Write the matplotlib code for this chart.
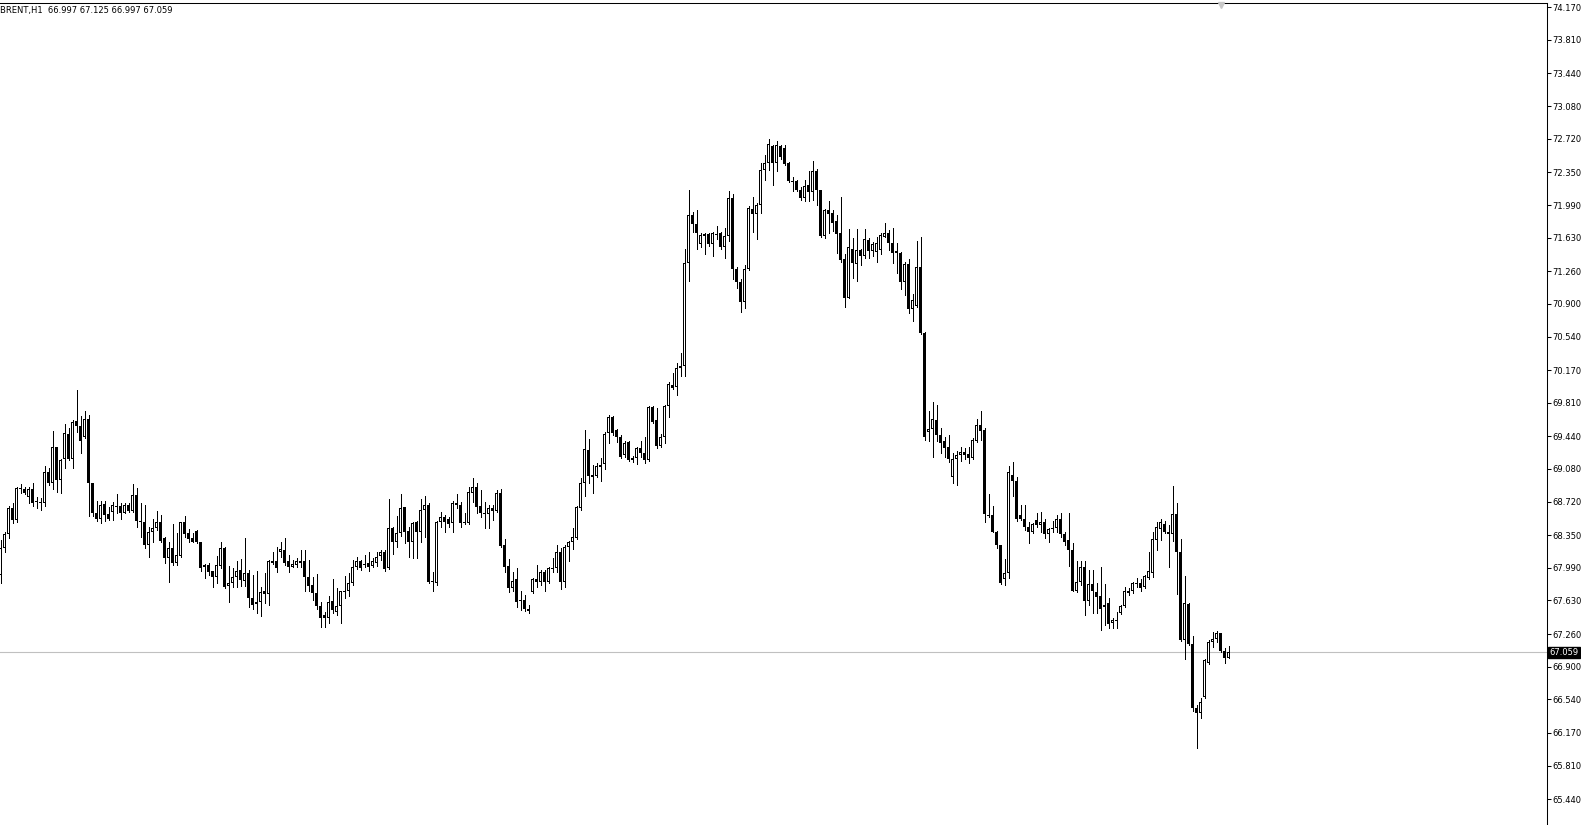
import matplotlib
matplotlib.use("Agg")
import matplotlib.pyplot as plt
import numpy as np

symbol = "BRENT,H1"

opens = [67.91, 68.21, 68.36, 68.65, 68.52, 68.87, 68.86, 68.77, 68.86, 68.73,
         68.72, 68.70, 69.05, 68.92, 69.32, 68.96, 69.19, 69.47, 69.19, 69.61,
         69.55, 69.43, 69.63, 68.92, 68.60, 68.53, 68.69, 68.58, 68.61, 68.67,
         68.67, 68.60, 68.68, 68.62, 68.79, 68.51, 68.50, 68.24, 68.39, 68.43,
         68.49, 68.32, 68.10, 68.21, 68.04, 68.12, 68.49, 68.37, 68.32, 68.40,
         68.28, 68.00, 68.02, 67.95, 67.89, 68.01, 68.21, 67.79, 67.82, 67.89,
         67.97, 67.84, 67.93, 67.66, 67.59, 67.61, 67.73, 67.70, 68.07, 68.06,
         68.16, 68.19, 68.06, 68.00, 68.02, 68.06, 68.06, 67.89, 67.80, 67.71,
         67.57, 67.47, 67.44, 67.62, 67.50, 67.57, 67.73, 67.73, 67.82, 68.00,
         68.07, 68.03, 68.04, 68.01, 68.04, 68.12, 68.17, 67.99, 68.43, 68.27,
         68.37, 68.66, 68.40, 68.27, 68.49, 68.39, 68.63, 68.68, 67.83, 67.82,
         68.49, 68.55, 68.53, 68.48, 68.68, 68.68, 68.50, 68.48, 68.82, 68.88,
         68.67, 68.59, 68.58, 68.65, 68.62, 68.81, 68.24, 68.01, 67.77, 67.87,
         67.63, 67.63, 67.54, 67.72, 67.87, 67.83, 67.94, 67.83, 67.99, 67.99,
         68.16, 67.83, 68.22, 68.27, 68.32, 68.65, 68.92, 69.29, 69.01, 69.00,
         69.12, 69.13, 69.48, 69.65, 69.51, 69.43, 69.23, 69.38, 69.18, 69.20,
         69.31, 69.26, 69.18, 69.76, 69.62, 69.33, 69.43, 69.77, 70.01, 69.98,
         70.19, 70.22, 71.35, 71.88, 71.78, 71.56, 71.65, 71.67, 71.56, 71.67,
         71.68, 71.53, 71.65, 72.07, 71.29, 71.14, 70.92, 71.28, 71.95, 71.89,
         71.99, 72.38, 72.45, 72.64, 72.45, 72.64, 72.62, 72.45, 72.26, 72.26,
         72.16, 72.07, 72.21, 72.13, 72.37, 72.15, 71.65, 71.93, 71.90, 71.81,
         71.68, 71.40, 70.97, 71.51, 71.34, 71.49, 71.43, 71.60, 71.48, 71.47,
         71.49, 71.64, 71.68, 71.57, 71.48, 71.46, 71.14, 71.34, 70.84, 70.88,
         71.31, 70.58, 69.49, 69.52, 69.62, 69.46, 69.39, 69.32, 68.99, 69.19,
         69.23, 69.27, 69.25, 69.20, 69.39, 69.56, 69.51, 68.57, 68.57, 68.39,
         68.24, 67.87, 67.93, 69.01, 68.95, 68.57, 68.53, 68.44, 68.38, 68.52,
         68.46, 68.49, 68.36, 68.43, 68.43, 68.53, 68.36, 68.30, 68.19, 67.73,
         67.83, 68.00, 67.62, 67.81, 67.72, 67.68, 67.56, 67.60, 67.38, 67.40,
         67.49, 67.57, 67.73, 67.73, 67.82, 67.82, 67.78, 67.88, 67.93, 68.30,
         68.42, 68.47, 68.38, 68.36, 68.58, 68.16, 67.19, 67.59, 67.15, 66.44,
         66.39, 66.57, 66.94, 67.17, 67.21, 67.27, 67.07, 66.997]

highs = [68.30, 68.39, 68.67, 68.70, 68.88, 68.91, 68.88, 68.88, 68.92, 68.77,
         68.76, 69.11, 69.09, 69.50, 69.32, 69.19, 69.58, 69.53, 69.62, 69.95,
         69.66, 69.72, 69.67, 68.93, 68.73, 68.73, 68.73, 68.66, 68.72, 68.80,
         68.71, 68.70, 68.70, 68.91, 68.87, 68.70, 68.68, 68.44, 68.53, 68.62,
         68.57, 68.33, 68.28, 68.47, 68.37, 68.50, 68.56, 68.42, 68.37, 68.41,
         68.28, 68.03, 68.04, 67.95, 68.12, 68.28, 68.22, 68.01, 67.99, 68.06,
         68.09, 68.32, 67.97, 67.91, 67.95, 67.78, 67.93, 68.08, 68.17, 68.22,
         68.28, 68.32, 68.13, 68.08, 68.10, 68.19, 68.19, 68.08, 67.89, 67.92,
         67.61, 67.50, 67.68, 67.87, 67.77, 67.74, 67.90, 67.93, 68.08, 68.11,
         68.08, 68.13, 68.16, 68.10, 68.16, 68.19, 68.19, 68.75, 68.44, 68.56,
         68.80, 68.66, 68.44, 68.50, 68.51, 68.75, 68.78, 68.70, 67.94, 68.51,
         68.61, 68.57, 68.55, 68.73, 68.80, 68.72, 68.59, 68.88, 68.98, 68.92,
         68.85, 68.72, 68.68, 68.68, 68.85, 68.86, 68.31, 68.09, 67.94, 67.99,
         67.73, 67.69, 67.58, 67.88, 68.02, 67.97, 67.97, 68.00, 68.10, 68.24,
         68.21, 68.24, 68.29, 68.43, 68.67, 68.98, 69.51, 69.41, 69.12, 69.15,
         69.20, 69.49, 69.68, 69.66, 69.52, 69.45, 69.39, 69.39, 69.22, 69.32,
         69.39, 69.43, 69.77, 69.77, 69.75, 69.47, 69.79, 70.04, 70.14, 70.25,
         70.36, 71.51, 72.15, 71.91, 71.93, 71.68, 71.68, 71.68, 71.69, 71.76,
         71.69, 71.74, 72.14, 72.11, 71.31, 71.17, 71.33, 71.98, 72.08, 72.01,
         72.45, 72.54, 72.72, 72.65, 72.70, 72.65, 72.65, 72.46, 72.30, 72.27,
         72.19, 72.27, 72.37, 72.47, 72.39, 72.16, 71.95, 72.03, 71.94, 71.88,
         72.08, 71.45, 71.73, 71.63, 71.73, 71.50, 71.73, 71.63, 71.58, 71.64,
         71.68, 71.79, 71.71, 71.74, 71.57, 71.47, 71.36, 71.40, 71.01, 71.59,
         71.64, 70.59, 69.72, 69.82, 69.79, 69.53, 69.43, 69.45, 69.26, 69.28,
         69.32, 69.31, 69.32, 69.42, 69.63, 69.72, 69.53, 68.80, 68.67, 68.40,
         68.24, 68.09, 69.11, 69.16, 68.99, 68.68, 68.68, 68.49, 68.48, 68.60,
         68.61, 68.53, 68.43, 68.51, 68.57, 68.59, 68.39, 68.59, 68.26, 68.06,
         68.07, 68.06, 67.97, 67.97, 67.82, 68.00, 67.81, 67.66, 67.44, 67.50,
         67.58, 67.78, 67.77, 67.83, 67.88, 67.87, 67.91, 68.16, 68.39, 68.50,
         68.53, 68.51, 68.46, 68.89, 68.71, 68.31, 67.90, 67.60, 67.24, 66.48,
         66.55, 66.99, 67.19, 67.28, 67.29, 67.27, 67.11, 67.125]

lows = [67.82, 68.17, 68.32, 68.48, 68.50, 68.81, 68.80, 68.71, 68.67, 68.65,
        68.63, 68.67, 68.90, 68.86, 68.83, 68.82, 69.09, 69.18, 69.09, 69.49,
        69.26, 69.42, 68.56, 68.56, 68.51, 68.48, 68.51, 68.52, 68.52, 68.60,
        68.53, 68.59, 68.61, 68.61, 68.44, 68.33, 68.21, 68.11, 68.27, 68.41,
        68.28, 68.04, 67.83, 68.02, 68.02, 68.11, 68.33, 68.28, 68.27, 68.26,
        67.96, 67.88, 67.91, 67.78, 67.82, 67.99, 67.77, 67.61, 67.78, 67.78,
        67.79, 67.79, 67.56, 67.54, 67.49, 67.46, 67.60, 67.58, 68.03, 67.94,
        68.11, 68.02, 67.94, 68.00, 68.00, 68.00, 67.73, 67.73, 67.64, 67.54,
        67.34, 67.34, 67.38, 67.49, 67.47, 67.38, 67.66, 67.68, 67.80, 67.98,
        67.97, 68.00, 67.95, 68.00, 68.01, 68.08, 67.95, 67.98, 68.14, 68.22,
        68.34, 68.26, 68.11, 68.10, 68.10, 68.28, 68.33, 67.82, 67.74, 67.80,
        68.44, 68.39, 68.44, 68.39, 68.65, 68.44, 68.47, 68.47, 68.72, 68.59,
        68.55, 68.43, 68.43, 68.52, 68.61, 68.22, 67.94, 67.72, 67.73, 67.56,
        67.53, 67.51, 67.49, 67.71, 67.78, 67.80, 67.74, 67.82, 67.94, 67.94,
        67.76, 67.78, 68.07, 68.20, 68.31, 68.63, 68.78, 68.93, 68.81, 68.99,
        68.95, 69.08, 69.37, 69.46, 69.38, 69.20, 69.21, 69.17, 69.16, 69.13,
        69.21, 69.15, 69.17, 69.59, 69.31, 69.32, 69.37, 69.65, 69.96, 69.89,
        70.11, 70.11, 71.15, 71.69, 71.50, 71.53, 71.45, 71.54, 71.43, 71.61,
        71.50, 71.41, 71.59, 71.17, 71.08, 70.81, 70.86, 71.27, 71.69, 71.61,
        71.90, 72.27, 72.38, 72.21, 72.36, 72.50, 72.43, 72.24, 72.14, 72.14,
        72.05, 72.03, 72.03, 72.05, 71.99, 71.64, 71.63, 71.68, 71.70, 71.46,
        71.36, 70.87, 70.96, 71.19, 71.15, 71.33, 71.41, 71.41, 71.43, 71.36,
        71.45, 71.64, 71.49, 71.35, 71.24, 71.06, 71.00, 70.80, 70.71, 70.87,
        70.57, 69.40, 69.39, 69.21, 69.39, 69.26, 69.21, 69.16, 68.92, 68.90,
        69.17, 69.19, 69.15, 69.19, 69.38, 69.40, 68.49, 68.55, 68.38, 68.21,
        67.81, 67.80, 67.88, 68.78, 68.51, 68.52, 68.41, 68.26, 68.37, 68.44,
        68.39, 68.32, 68.27, 68.38, 68.38, 68.33, 68.24, 68.01, 67.73, 67.72,
        67.80, 67.47, 67.58, 67.49, 67.49, 67.30, 67.36, 67.33, 67.33, 67.33,
        67.48, 67.56, 67.69, 67.71, 67.78, 67.74, 67.77, 67.87, 67.89, 68.19,
        68.30, 68.37, 68.00, 68.29, 67.70, 67.18, 66.98, 67.14, 66.41, 66.00,
        66.34, 66.55, 66.93, 67.12, 67.17, 67.06, 66.94, 66.997]

closes = [68.21, 68.36, 68.65, 68.52, 68.87, 68.86, 68.81, 68.86, 68.71, 68.72,
          68.70, 69.05, 68.92, 69.32, 68.96, 69.18, 69.48, 69.19, 69.60, 69.55,
          69.39, 69.63, 68.92, 68.59, 68.53, 68.68, 68.57, 68.53, 68.68, 68.66,
          68.59, 68.68, 68.62, 68.79, 68.51, 68.49, 68.24, 68.39, 68.43, 68.49,
          68.29, 68.10, 68.21, 68.04, 68.13, 68.49, 68.36, 68.31, 68.28, 68.27,
          67.99, 68.02, 67.94, 67.89, 68.02, 68.21, 67.78, 67.82, 67.89, 67.95,
          67.86, 67.93, 67.66, 67.58, 67.61, 67.72, 67.70, 68.06, 68.04, 67.99,
          68.20, 68.04, 68.00, 68.03, 68.06, 68.04, 67.89, 67.79, 67.71, 67.57,
          67.44, 67.44, 67.61, 67.52, 67.57, 67.73, 67.72, 67.82, 68.00, 68.07,
          67.99, 68.02, 68.00, 68.06, 68.11, 68.17, 67.98, 68.43, 68.27, 68.37,
          68.65, 68.39, 68.27, 68.48, 68.39, 68.63, 68.68, 67.83, 67.84, 68.49,
          68.55, 68.49, 68.47, 68.70, 68.70, 68.48, 68.48, 68.83, 68.88, 68.66,
          68.59, 68.58, 68.65, 68.62, 68.82, 68.23, 68.00, 67.77, 67.84, 67.61,
          67.62, 67.54, 67.51, 67.87, 67.83, 67.94, 67.83, 67.99, 67.98, 68.16,
          67.83, 68.22, 68.27, 68.33, 68.66, 68.92, 69.30, 69.00, 68.99, 69.11,
          69.10, 69.47, 69.65, 69.48, 69.43, 69.21, 69.37, 69.18, 69.20, 69.31,
          69.26, 69.18, 69.76, 69.60, 69.33, 69.43, 69.77, 70.02, 69.97, 70.19,
          70.21, 71.35, 71.88, 71.78, 71.68, 71.66, 71.67, 71.56, 71.68, 71.66,
          71.53, 71.65, 72.07, 71.29, 71.14, 70.92, 71.28, 71.96, 71.89, 71.99,
          72.38, 72.45, 72.66, 72.45, 72.65, 72.52, 72.44, 72.25, 72.24, 72.15,
          72.07, 72.20, 72.13, 72.37, 72.15, 71.65, 71.93, 71.89, 71.79, 71.67,
          71.38, 70.97, 71.53, 71.35, 71.49, 71.43, 71.61, 71.48, 71.56, 71.57,
          71.66, 71.68, 71.57, 71.46, 71.46, 71.14, 71.34, 70.84, 70.94, 71.31,
          70.58, 69.43, 69.52, 69.63, 69.45, 69.37, 69.31, 69.19, 69.19, 69.23,
          69.27, 69.23, 69.20, 69.40, 69.56, 69.50, 68.58, 68.56, 68.39, 68.24,
          67.82, 67.93, 69.05, 68.95, 68.53, 68.53, 68.44, 68.38, 68.47, 68.46,
          68.49, 68.36, 68.42, 68.42, 68.53, 68.36, 68.27, 68.19, 67.74, 67.83,
          68.00, 67.62, 67.81, 67.73, 67.67, 67.54, 67.58, 67.37, 67.42, 67.42,
          67.57, 67.73, 67.71, 67.82, 67.81, 67.77, 67.90, 67.96, 68.31, 68.44,
          68.49, 68.38, 68.36, 68.58, 68.16, 67.19, 67.60, 67.15, 66.44, 66.39,
          66.51, 66.97, 67.17, 67.21, 67.27, 67.07, 67.00, 67.059]

price_ticks = [74.170, 73.810, 73.440, 73.080, 72.720, 72.350, 71.990, 71.630,
               71.260, 70.900, 70.540, 70.170, 69.810, 69.440, 69.080, 68.720,
               68.350, 67.990, 67.630, 67.260, 66.900, 66.540, 66.170, 65.810,
               65.440]

n = min(len(opens), len(highs), len(lows), len(closes))
o = np.array(opens[:n]); h = np.array(highs[:n])
l = np.array(lows[:n]); c = np.array(closes[:n])
x = np.arange(n)

W, H = 1581, 825
AX_W, AX_H = 1547, 822
fig = plt.figure(figsize=(W / 100, H / 100), dpi=100)
fig.patch.set_facecolor("white")
ax = fig.add_axes([0, 0, AX_W / W, AX_H / H])
ax.set_facecolor("white")

ymin, ymax = 65.155, 74.217
ax.set_xlim(-0.125, -0.125 + AX_W / 4)
ax.set_ylim(ymin, ymax)
px = (ymax - ymin) / AX_H  # one pixel in price units

# wicks
ax.vlines(x, l, h, colors="black", linewidth=0.72, zorder=2, antialiased=False)

# bodies: black block, white interior for rising candles
bottoms = np.minimum(o, c)
heights = np.maximum(np.abs(c - o), px)
ax.bar(x, heights, bottom=bottoms, width=0.75, color="black",
       linewidth=0, zorder=3, antialiased=False)
up = (c > o) & (np.abs(c - o) > 2.5 * px)
ax.bar(x[up], heights[up] - 2 * px, bottom=bottoms[up] + px, width=0.25,
       color="white", linewidth=0, zorder=4, antialiased=False)

last = c[-1]
ax.axhline(last, color="#c0c0c0", linewidth=0.8, zorder=1)

ax.yaxis.tick_right()
ax.set_yticks(price_ticks)
ax.set_yticklabels([f"{v:.3f}" for v in price_ticks])
ax.tick_params(axis="y", direction="out", length=3, width=0.75, pad=1,
               labelsize=6, colors="black")
ax.set_xticks([])
for side in ("left", "bottom"):
    ax.spines[side].set_visible(False)
for side in ("top", "right"):
    ax.spines[side].set_color("black")
    ax.spines[side].set_linewidth(0.75)

# current price label
ax.text(1.0015, last, f"{last:.3f}", transform=ax.get_yaxis_transform(),
        ha="left", va="center", fontsize=6, color="white", zorder=10,
        bbox=dict(boxstyle="square,pad=0.15", facecolor="black", edgecolor="black"),
        clip_on=False)

# header
fig.text(0.0, 1 - 11 / H,
         f"{symbol}  {o[-1]:.3f} {h[-1]:.3f} {l[-1]:.3f} {c[-1]:.3f}",
         ha="left", va="center", fontsize=6, color="black")

# chart shift marker
ax.plot([1221 / AX_W], [0.998], marker="v", markersize=5, color="#c8c8c8",
        transform=ax.transAxes, clip_on=False, zorder=5)

fig.savefig("out.png", dpi=100, facecolor="white")
